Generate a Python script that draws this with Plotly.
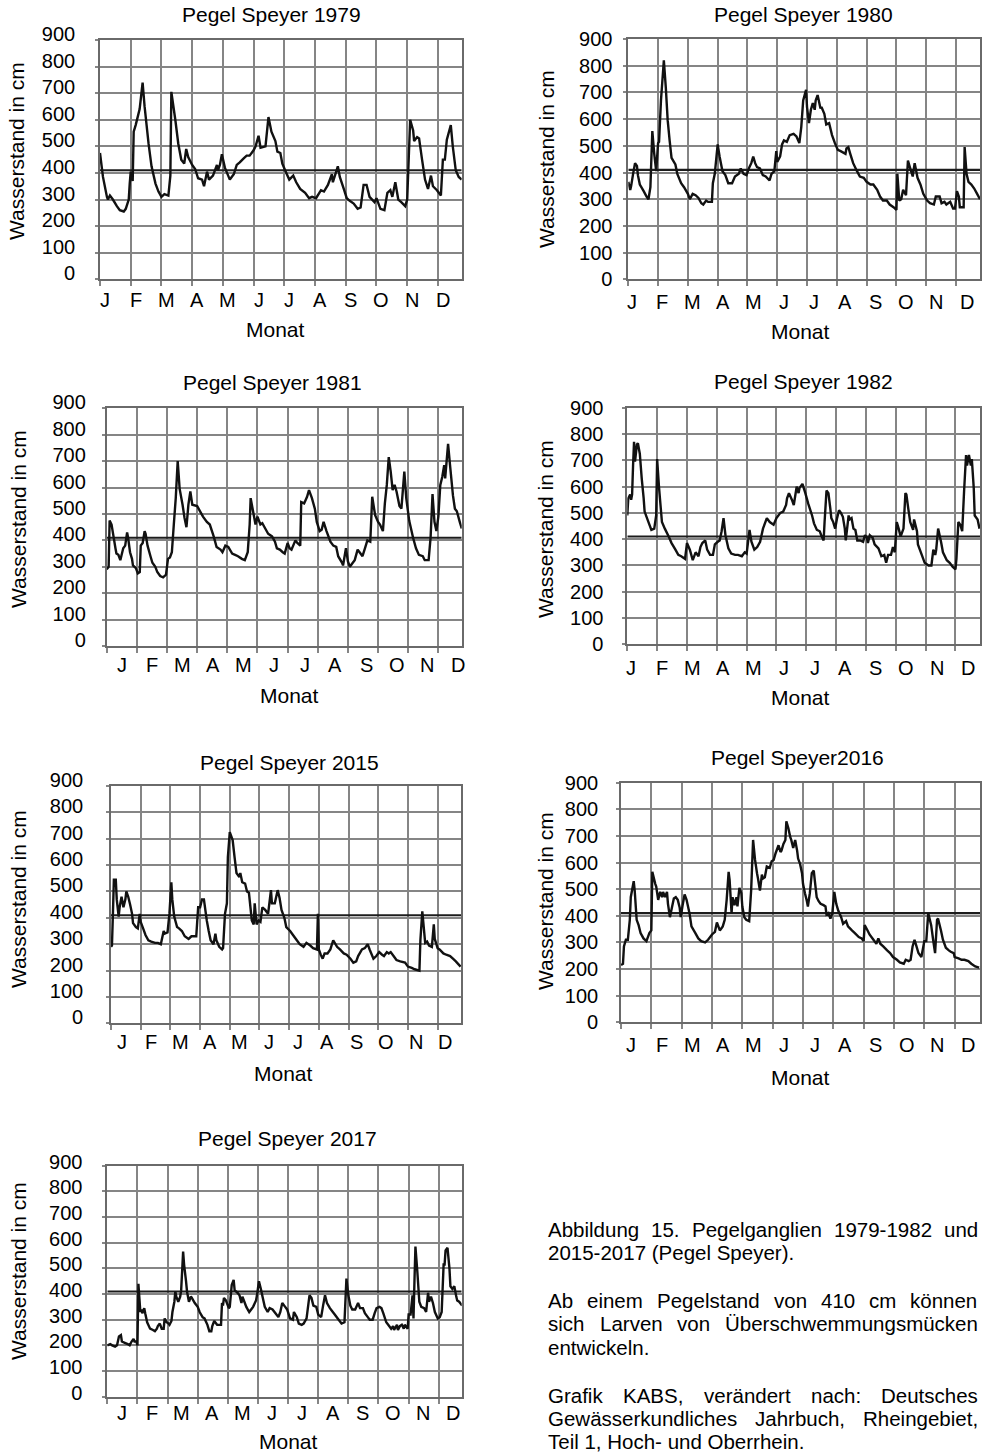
import plotly.graph_objects as go

FIG_W, FIG_H = 984, 1455
FONT = "Liberation Sans, Arial, Helvetica, sans-serif"

# ---------------------------------------------------------------------------
# Data: daily water level at the Speyer gauge, (day of year, level in cm)
# ---------------------------------------------------------------------------
THRESHOLD_CM = 410
MONTHS = ["J", "F", "M", "A", "M", "J", "J", "A", "S", "O", "N", "D"]
GRID_DAYS = [31 * k for k in range(12)]
LEVEL_TICKS = [0, 100, 200, 300, 400, 500, 600, 700, 800, 900]

SPEYER_1979 = [
    (0, 475), (3, 385), (7, 310), (8, 300), (10, 315), (13, 300), (17, 275), (20, 260), (24, 255), (26, 265),
    (29, 300), (30, 360), (31, 405), (33, 370), (34, 555), (36, 580), (38, 610), (40, 640), (43, 740), (45, 650),
    (49, 510), (52, 425), (56, 360), (59, 330), (62, 310), (65, 320), (69, 315), (71, 390), (72, 705), (76, 600),
    (79, 510), (82, 450), (85, 435), (87, 490), (89, 460), (93, 430), (96, 415), (99, 380), (103, 375), (105, 350),
    (108, 405), (110, 375), (114, 390), (118, 430), (119, 410), (121, 430), (123, 470), (126, 420), (131, 375), (135, 395),
    (138, 430), (141, 440), (145, 455), (148, 465), (151, 465), (155, 485), (157, 500), (160, 540), (162, 495), (167, 500),
    (170, 610), (173, 555), (177, 520), (179, 480), (182, 475), (184, 435), (188, 400), (191, 375), (195, 390), (198, 365),
    (202, 340), (207, 325), (211, 305), (214, 310), (218, 305), (223, 335), (226, 330), (230, 355), (234, 395), (235, 365),
    (240, 425), (242, 385), (246, 340), (249, 305), (252, 295), (256, 285), (260, 265), (263, 270), (266, 355), (269, 355),
    (272, 310), (277, 290), (279, 305), (283, 265), (287, 260), (290, 325), (293, 335), (295, 310), (298, 365), (301, 300),
    (304, 290), (308, 275), (310, 300), (313, 600), (316, 560), (317, 520), (320, 535), (322, 530), (325, 450), (328, 375),
    (331, 340), (334, 390), (336, 350), (340, 335), (344, 315), (346, 450), (348, 450), (350, 525), (354, 580), (356, 500),
    (359, 410), (362, 385), (365, 375),
]

SPEYER_1980 = [
    (0, 365), (2, 335), (3, 350), (5, 395), (7, 435), (9, 425), (10, 390), (12, 355), (16, 330), (19, 310),
    (21, 300), (23, 345), (25, 555), (27, 470), (29, 405), (31, 510), (32, 515), (34, 670), (37, 820), (39, 720),
    (41, 595), (43, 520), (45, 455), (49, 430), (51, 395), (55, 360), (58, 345), (62, 320), (64, 300), (67, 320),
    (70, 315), (73, 305), (76, 285), (78, 280), (81, 295), (83, 290), (87, 290), (88, 360), (90, 395), (93, 505),
    (95, 460), (98, 405), (101, 390), (104, 360), (108, 360), (111, 385), (115, 395), (117, 415), (120, 395), (123, 390),
    (126, 420), (128, 435), (130, 460), (132, 435), (134, 420), (137, 415), (140, 390), (143, 385), (147, 370), (149, 395),
    (152, 405), (154, 480), (155, 440), (158, 460), (160, 505), (162, 520), (165, 515), (168, 540), (172, 545), (175, 535),
    (178, 510), (180, 570), (182, 670), (185, 710), (186, 645), (188, 585), (190, 635), (192, 660), (194, 635), (195, 670),
    (197, 690), (200, 640), (201, 645), (204, 620), (206, 580), (209, 585), (212, 540), (215, 510), (218, 485), (221, 480),
    (226, 470), (227, 490), (229, 495), (231, 470), (234, 435), (238, 405), (241, 385), (245, 380), (248, 365), (252, 355),
    (255, 355), (259, 335), (262, 310), (265, 295), (269, 295), (272, 280), (276, 270), (279, 260), (280, 395), (282, 295),
    (284, 300), (286, 335), (289, 315), (291, 445), (293, 420), (296, 385), (298, 435), (301, 380), (304, 355), (307, 320),
    (311, 295), (314, 285), (318, 280), (320, 310), (324, 310), (326, 285), (329, 290), (331, 280), (335, 290), (338, 265),
    (340, 265), (342, 330), (344, 310), (345, 270), (349, 270), (350, 495), (352, 395), (354, 365), (357, 355), (360, 340),
    (363, 320), (366, 300),
]

SPEYER_1981 = [
    (0, 290), (2, 300), (3, 475), (5, 460), (7, 415), (9, 370), (10, 350), (12, 345), (14, 325), (15, 340),
    (17, 370), (19, 380), (21, 430), (22, 410), (24, 355), (26, 330), (27, 305), (30, 295), (32, 275), (34, 280),
    (35, 380), (37, 390), (39, 435), (40, 425), (42, 380), (45, 340), (47, 315), (50, 300), (52, 280), (55, 265),
    (58, 260), (61, 270), (63, 330), (65, 335), (67, 355), (69, 460), (71, 560), (73, 700), (75, 595), (78, 535),
    (80, 485), (82, 450), (84, 535), (86, 585), (88, 535), (93, 530), (96, 510), (99, 490), (103, 470), (106, 460),
    (110, 415), (113, 375), (117, 365), (119, 355), (122, 380), (125, 375), (129, 350), (132, 345), (135, 340), (139, 330),
    (142, 325), (145, 355), (147, 460), (148, 560), (150, 520), (153, 460), (155, 490), (158, 460), (160, 465), (163, 445),
    (166, 425), (170, 415), (173, 395), (175, 370), (178, 365), (181, 355), (183, 350), (186, 390), (188, 370), (190, 365),
    (194, 400), (196, 390), (199, 380), (200, 545), (203, 540), (206, 565), (208, 590), (211, 560), (214, 520), (216, 470),
    (219, 435), (221, 440), (223, 470), (226, 435), (230, 395), (233, 380), (236, 375), (238, 340), (242, 315), (243, 305),
    (246, 370), (248, 320), (250, 300), (253, 315), (255, 325), (258, 365), (260, 355), (263, 340), (266, 375), (268, 400),
    (271, 395), (273, 565), (276, 495), (279, 470), (281, 460), (284, 435), (286, 540), (288, 610), (290, 715), (292, 660),
    (294, 590), (296, 610), (298, 585), (301, 530), (303, 520), (306, 660), (308, 560), (311, 475), (315, 410), (318, 370),
    (321, 345), (325, 340), (327, 325), (331, 325), (333, 410), (335, 575), (337, 470), (339, 435), (341, 490), (343, 610),
    (345, 640), (347, 685), (348, 635), (351, 765), (353, 685), (356, 570), (358, 520), (360, 510), (363, 470), (365, 445),
]

SPEYER_1982 = [
    (0, 490), (1, 555), (3, 570), (4, 550), (5, 570), (6, 680), (7, 770), (8, 695), (10, 760), (11, 765),
    (13, 725), (15, 630), (17, 555), (18, 505), (22, 465), (25, 435), (28, 440), (30, 490), (31, 705), (33, 595),
    (36, 465), (39, 440), (43, 410), (46, 385), (50, 360), (53, 340), (56, 335), (60, 325), (62, 385), (65, 360),
    (68, 320), (71, 350), (74, 335), (76, 370), (78, 385), (81, 395), (83, 360), (86, 340), (89, 340), (91, 380),
    (94, 390), (96, 395), (98, 430), (100, 480), (102, 415), (105, 365), (108, 345), (112, 340), (115, 340), (119, 335),
    (122, 350), (124, 345), (127, 435), (129, 390), (132, 360), (135, 370), (138, 390), (141, 440), (145, 480), (148, 465),
    (152, 455), (155, 480), (159, 500), (162, 505), (165, 530), (166, 555), (168, 575), (171, 550), (173, 530), (176, 600),
    (178, 575), (179, 595), (182, 610), (185, 575), (188, 535), (192, 490), (194, 460), (197, 435), (200, 430), (202, 410),
    (204, 395), (205, 465), (207, 585), (209, 575), (211, 515), (212, 480), (214, 465), (216, 440), (218, 480), (220, 510),
    (222, 500), (224, 485), (226, 440), (227, 395), (230, 490), (231, 475), (233, 480), (235, 440), (237, 435), (239, 395),
    (242, 395), (245, 390), (247, 415), (249, 405), (250, 385), (252, 415), (255, 405), (257, 380), (261, 365), (264, 335),
    (267, 340), (269, 310), (271, 340), (274, 340), (276, 370), (278, 350), (280, 465), (282, 440), (284, 410), (287, 440),
    (289, 575), (290, 570), (292, 515), (294, 465), (297, 435), (298, 475), (301, 430), (302, 380), (306, 340), (309, 310),
    (313, 300), (316, 300), (318, 360), (320, 340), (321, 360), (323, 440), (326, 390), (328, 350), (332, 320), (335, 310),
    (338, 295), (341, 285), (342, 325), (344, 465), (346, 455), (348, 430), (350, 585), (352, 720), (353, 680), (355, 720),
    (357, 680), (358, 705), (360, 595), (361, 490), (364, 475), (366, 440),
]

SPEYER_2015 = [
    (0, 290), (1, 295), (2, 415), (3, 545), (5, 545), (6, 470), (8, 405), (9, 440), (11, 480), (13, 440),
    (15, 470), (16, 500), (18, 480), (20, 450), (22, 415), (23, 380), (26, 365), (28, 360), (30, 415), (31, 385),
    (34, 355), (36, 335), (39, 315), (42, 310), (46, 305), (49, 305), (52, 300), (55, 350), (56, 340), (59, 345),
    (61, 415), (63, 535), (64, 470), (66, 405), (69, 365), (71, 360), (74, 350), (77, 330), (81, 320), (84, 330),
    (87, 330), (89, 330), (91, 440), (93, 440), (95, 470), (97, 470), (100, 390), (102, 350), (104, 315), (107, 300),
    (109, 340), (110, 315), (113, 290), (116, 280), (117, 285), (119, 415), (121, 455), (122, 630), (124, 725), (127, 695),
    (129, 630), (131, 570), (134, 555), (135, 570), (137, 535), (140, 530), (142, 500), (144, 495), (147, 390), (149, 375),
    (150, 455), (152, 375), (154, 390), (156, 385), (158, 440), (161, 430), (164, 415), (167, 505), (168, 455), (171, 455),
    (174, 505), (176, 475), (178, 430), (181, 400), (183, 365), (187, 350), (190, 335), (194, 315), (197, 300), (201, 290),
    (204, 305), (208, 295), (211, 285), (215, 280), (216, 415), (217, 280), (219, 260), (221, 245), (223, 265), (226, 265),
    (229, 280), (232, 315), (236, 290), (239, 280), (243, 265), (246, 260), (250, 245), (253, 230), (256, 235), (258, 255),
    (262, 280), (265, 285), (268, 300), (270, 280), (274, 245), (277, 255), (280, 270), (283, 260), (285, 255), (288, 270),
    (290, 265), (292, 270), (295, 255), (298, 240), (302, 235), (307, 230), (310, 215), (314, 210), (317, 205), (322, 200),
    (323, 315), (325, 425), (328, 305), (330, 310), (332, 295), (335, 290), (337, 375), (338, 320), (341, 285), (343, 280),
    (347, 265), (350, 260), (354, 255), (357, 245), (360, 235), (365, 215),
]

SPEYER_2016 = [
    (0, 215), (2, 220), (3, 285), (5, 310), (7, 310), (9, 385), (10, 470), (13, 530), (14, 495), (16, 385),
    (18, 365), (20, 335), (23, 315), (26, 305), (27, 315), (29, 335), (31, 345), (32, 565), (35, 520), (36, 510),
    (38, 460), (40, 490), (42, 470), (43, 490), (45, 470), (47, 490), (48, 445), (50, 395), (52, 430), (54, 465),
    (56, 470), (58, 460), (60, 430), (61, 395), (63, 440), (65, 480), (67, 460), (70, 410), (72, 360), (76, 335),
    (79, 315), (82, 305), (86, 300), (89, 310), (93, 330), (96, 340), (98, 375), (101, 345), (104, 360), (106, 385),
    (108, 460), (110, 565), (111, 535), (113, 410), (114, 470), (116, 440), (118, 470), (119, 435), (121, 505), (123, 485),
    (124, 435), (126, 395), (128, 385), (131, 380), (133, 495), (135, 685), (137, 610), (139, 560), (140, 540), (142, 495),
    (144, 555), (145, 540), (147, 545), (149, 585), (152, 580), (154, 605), (156, 610), (158, 635), (161, 665), (163, 640),
    (164, 645), (166, 670), (168, 685), (169, 755), (171, 730), (173, 695), (174, 685), (176, 655), (178, 685), (180, 645),
    (181, 615), (183, 595), (185, 560), (186, 520), (188, 485), (190, 455), (191, 435), (193, 485), (195, 560), (197, 570),
    (198, 535), (200, 470), (202, 455), (204, 445), (207, 440), (209, 435), (210, 405), (212, 410), (214, 390), (216, 410),
    (218, 490), (220, 445), (222, 420), (225, 395), (227, 370), (230, 380), (232, 360), (236, 345), (239, 335), (243, 320),
    (246, 315), (248, 305), (249, 365), (252, 345), (254, 330), (258, 310), (261, 295), (263, 315), (265, 295), (268, 285),
    (272, 270), (275, 260), (278, 245), (282, 235), (285, 225), (289, 220), (291, 235), (294, 230), (296, 235), (298, 285),
    (300, 310), (302, 285), (304, 260), (307, 245), (310, 305), (312, 305), (314, 410), (317, 365), (319, 310), (321, 260),
    (323, 385), (324, 390), (327, 345), (329, 310), (332, 280), (335, 270), (337, 265), (340, 260), (341, 245), (345, 240),
    (348, 235), (351, 235), (355, 230), (358, 220), (362, 210), (366, 205),
]

SPEYER_2017 = [
    (0, 200), (3, 205), (5, 200), (8, 195), (10, 200), (12, 235), (14, 240), (15, 215), (18, 210), (21, 205),
    (23, 200), (25, 215), (27, 225), (28, 215), (30, 215), (31, 200), (32, 440), (34, 330), (35, 340), (36, 325),
    (38, 345), (39, 325), (41, 290), (44, 265), (47, 260), (49, 255), (51, 265), (52, 275), (54, 285), (56, 265),
    (58, 265), (59, 305), (61, 290), (63, 285), (64, 280), (66, 295), (67, 330), (69, 370), (70, 410), (71, 390),
    (73, 370), (75, 390), (76, 415), (78, 565), (79, 515), (81, 450), (82, 410), (84, 370), (86, 390), (87, 385),
    (90, 365), (93, 350), (95, 330), (98, 310), (100, 305), (103, 280), (105, 255), (107, 255), (108, 275), (110, 295),
    (113, 280), (115, 280), (117, 280), (118, 365), (119, 355), (120, 385), (122, 375), (125, 345), (126, 350), (128, 435),
    (130, 455), (131, 415), (134, 405), (136, 395), (138, 365), (139, 390), (141, 370), (143, 350), (146, 330), (148, 340),
    (150, 350), (153, 375), (154, 395), (156, 450), (158, 420), (160, 385), (162, 350), (165, 330), (167, 345), (170, 340),
    (173, 325), (176, 310), (178, 330), (180, 365), (183, 350), (185, 340), (188, 305), (191, 300), (192, 330), (195, 310),
    (197, 285), (200, 280), (202, 285), (205, 305), (208, 395), (210, 385), (212, 355), (215, 350), (217, 320), (220, 310),
    (222, 355), (224, 395), (226, 365), (229, 345), (232, 330), (234, 320), (238, 300), (241, 285), (244, 290), (246, 460),
    (248, 395), (250, 355), (252, 340), (255, 340), (258, 365), (260, 345), (263, 345), (265, 325), (268, 310), (270, 300),
    (273, 300), (275, 325), (277, 345), (280, 350), (282, 345), (284, 325), (287, 290), (289, 280), (292, 265), (294, 275),
    (295, 260), (298, 280), (299, 260), (301, 275), (303, 280), (305, 265), (306, 280), (309, 265), (310, 320), (312, 320),
    (314, 395), (315, 305), (316, 450), (317, 585), (319, 485), (321, 370), (323, 350), (326, 345), (328, 330), (330, 405),
    (331, 370), (333, 390), (335, 365), (337, 330), (340, 305), (342, 310), (344, 330), (346, 515), (347, 515), (348, 570),
    (350, 580), (352, 500), (353, 430), (355, 420), (357, 430), (359, 390), (360, 375), (362, 370), (365, 355),
]

# ---------------------------------------------------------------------------
# Panel placement (pixels on the 984 x 1455 page)
# box = (left, right, top of 900 cm line, bottom 0 cm line); span = x range in days
# ---------------------------------------------------------------------------
PANELS = [
    dict(title="Pegel Speyer 1979", series=SPEYER_1979, box=(100, 461.7, 40, 279.3), span=365,
         title_xy=(271, 15), xlab_xy=(275, 330), ylab_xy=(17, 151),
         months=(5, 31), month_y=300, gap=21, lift=6),
    dict(title="Pegel Speyer 1980", series=SPEYER_1980, box=(628.3, 980, 39, 279.3), span=366,
         title_xy=(803, 15), xlab_xy=(800, 332), ylab_xy=(546, 159),
         months=(3.5, 31.7), month_y=302, gap=12, lift=0),
    dict(title="Pegel Speyer 1981", series=SPEYER_1981, box=(106.7, 461.7, 408.3, 646), span=365,
         title_xy=(272, 383), xlab_xy=(289, 695), ylab_xy=(18, 519),
         months=(15.4, 31.4), month_y=665, gap=17, lift=6),
    dict(title="Pegel Speyer 1982", series=SPEYER_1982, box=(627.3, 980, 407.7, 644.3), span=366.5,
         title_xy=(803, 382), xlab_xy=(800, 697), ylab_xy=(545, 529),
         months=(3.8, 31.8), month_y=668, gap=20, lift=0),
    dict(title="Pegel Speyer 2015", series=SPEYER_2015, box=(111, 461, 786, 1023.3), span=365.4,
         title_xy=(289, 762), xlab_xy=(283, 1073), ylab_xy=(18, 899),
         months=(11.1, 30.7), month_y=1042, gap=24, lift=6),
    dict(title="Pegel Speyer2016", series=SPEYER_2016, box=(621, 980, 782.7, 1022.3), span=366.9,
         title_xy=(797, 757), xlab_xy=(800, 1077), ylab_xy=(545, 901),
         months=(10.2, 31.3), month_y=1045, gap=19, lift=0),
    dict(title="Pegel Speyer 2017", series=SPEYER_2017, box=(107.3, 461.7, 1165.7, 1396.7), span=364.6,
         title_xy=(287, 1138), xlab_xy=(288, 1441), ylab_xy=(18, 1271),
         months=(14.7, 31.0), month_y=1413, gap=21, lift=4),
]

CAPTION = [
    ("Abbildung 15. Pegelganglien 1979-1982 und", 1229, True),
    ("2015-2017 (Pegel Speyer).", 1252.5, False),
    ("Ab einem Pegelstand von 410 cm können", 1300, True),
    ("sich Larven von Überschwemmungsmücken", 1323.5, True),
    ("entwickeln.", 1347, False),
    ("Grafik KABS, verändert nach: Deutsches", 1395, True),
    ("Gewässerkundliches Jahrbuch, Rheingebiet,", 1418.5, True),
    ("Teil 1, Hoch- und Oberrhein.", 1441.5, False),
]
CAPTION_LEFT, CAPTION_RIGHT = 547.3, 976.7
CAPTION_SIZE = 20.5

GRID_COLOR = "#858585"
AXIS_COLOR = "#6a6a6a"
TICK_SIZE = 20
TITLE_SIZE = 21

# Arial / Liberation Sans advance widths (1/1000 em) used to justify the caption
CHAR_W = {}
for chars, w in [(" ,.:ftI", 278), ("ijl", 222), ("()-r", 333),
                 ("csvkxyzJ", 500), ("FTZ", 611), ("ABEKPSVXY", 667),
                 ("CDHNRUÜw", 722), ("GOQ", 778), ("mM", 833), ("W", 944)]:
    for c in chars:
        CHAR_W[c] = w


def px(x):
    return x / FIG_W


def py(y):
    return 1 - y / FIG_H


def text_width(s, size):
    return sum(CHAR_W.get(c, 556) for c in s) * size / 1000.0


fig = go.Figure()
axes = {}
notes = []

for n, p in enumerate(PANELS, start=1):
    xa = "x" if n == 1 else f"x{n}"
    ya = "y" if n == 1 else f"y{n}"
    days = [d for d, _ in p["series"]]
    levels = [v for _, v in p["series"]]

    # 410 cm threshold line, then the gauge record on top
    fig.add_trace(go.Scatter(x=[0, p["span"]], y=[THRESHOLD_CM, THRESHOLD_CM], mode="lines",
                             line=dict(color="#1c1c1c", width=2.1), xaxis=xa, yaxis=ya,
                             hoverinfo="skip", showlegend=False))
    fig.add_trace(go.Scatter(x=days, y=levels, mode="lines",
                             line=dict(color="#111111", width=2.4, simplify=False),
                             xaxis=xa, yaxis=ya, showlegend=False))

    x0, x1, yt, yb = p["box"]
    axes["xaxis" if n == 1 else f"xaxis{n}"] = dict(
        domain=[px(x0), px(x1)], range=[0, p["span"]], anchor=ya, automargin=False,
        tickmode="array", tickvals=GRID_DAYS, showticklabels=False,
        showgrid=True, gridcolor=GRID_COLOR, gridwidth=1.5,
        ticks="outside", ticklen=5, tickwidth=1.5, tickcolor=GRID_COLOR,
        showline=True, linecolor=AXIS_COLOR, linewidth=1.7, mirror=True,
        zeroline=False, fixedrange=True,
    )
    axes["yaxis" if n == 1 else f"yaxis{n}"] = dict(
        domain=[py(yb), py(yt)], range=[0, 900], anchor=xa, automargin=False,
        tickmode="array", tickvals=LEVEL_TICKS,
        tickfont=dict(family=FONT, size=TICK_SIZE, color="black"),
        ticklabelstandoff=max(p["gap"] - 5, 0), ticklabelshift=-p["lift"],
        showgrid=True, gridcolor=GRID_COLOR, gridwidth=1.5,
        ticks="outside", ticklen=3, tickwidth=1.5, tickcolor=GRID_COLOR,
        showline=True, linecolor=AXIS_COLOR, linewidth=1.7, mirror=True,
        zeroline=False, fixedrange=True,
    )

    # month initials under the grid
    m0, step = p["months"]
    for i, m in enumerate(MONTHS):
        notes.append(dict(text=m, x=m0 + step * i, xref=xa, y=py(p["month_y"]), yref="paper",
                          xanchor="center", yanchor="middle", showarrow=False,
                          font=dict(family=FONT, size=TICK_SIZE, color="black")))

    tx, ty = p["title_xy"]
    notes.append(dict(text=p["title"], x=px(tx), y=py(ty), xref="paper", yref="paper",
                      xanchor="center", yanchor="middle", showarrow=False,
                      font=dict(family=FONT, size=TITLE_SIZE, color="black")))
    lx, ly = p["xlab_xy"]
    notes.append(dict(text="Monat", x=px(lx), y=py(ly), xref="paper", yref="paper",
                      xanchor="center", yanchor="middle", showarrow=False,
                      font=dict(family=FONT, size=TITLE_SIZE, color="black")))
    vx, vy = p["ylab_xy"]
    notes.append(dict(text="Wasserstand in cm", x=px(vx), y=py(vy), xref="paper", yref="paper",
                      xanchor="center", yanchor="middle", textangle=-90, showarrow=False,
                      font=dict(family=FONT, size=TITLE_SIZE, color="black")))

# caption block, justified lines laid out word by word
for line, y, justify in CAPTION:
    base = dict(y=py(y), xref="paper", yref="paper", yanchor="middle", showarrow=False,
                borderpad=0, font=dict(family=FONT, size=CAPTION_SIZE, color="black"))
    if not justify:
        notes.append(dict(text=line, x=px(CAPTION_LEFT), xanchor="left", **base))
        continue
    words = line.split(" ")
    widths = [text_width(w, CAPTION_SIZE) for w in words]
    gap = (CAPTION_RIGHT - CAPTION_LEFT - sum(widths)) / (len(words) - 1)
    x = CAPTION_LEFT
    for w, wd in zip(words, widths):
        notes.append(dict(text=w, x=px(x), xanchor="left", **base))
        x += wd + gap

fig.update_layout(
    width=FIG_W, height=FIG_H, autosize=False,
    margin=dict(l=0, r=0, t=0, b=0, pad=0, autoexpand=False),
    paper_bgcolor="white", plot_bgcolor="white",
    showlegend=False,
    font=dict(family=FONT, color="black"),
    annotations=notes,
    **axes,
)

# page sized exactly to the figure: no body margin, no scrollbars
PAGE_CSS = ("var s=document.createElement('style');"
            "s.textContent='html,body{margin:0;padding:0;overflow:hidden;}';"
            "document.head.appendChild(s);")
fig.write_html("out.html", post_script=PAGE_CSS)
